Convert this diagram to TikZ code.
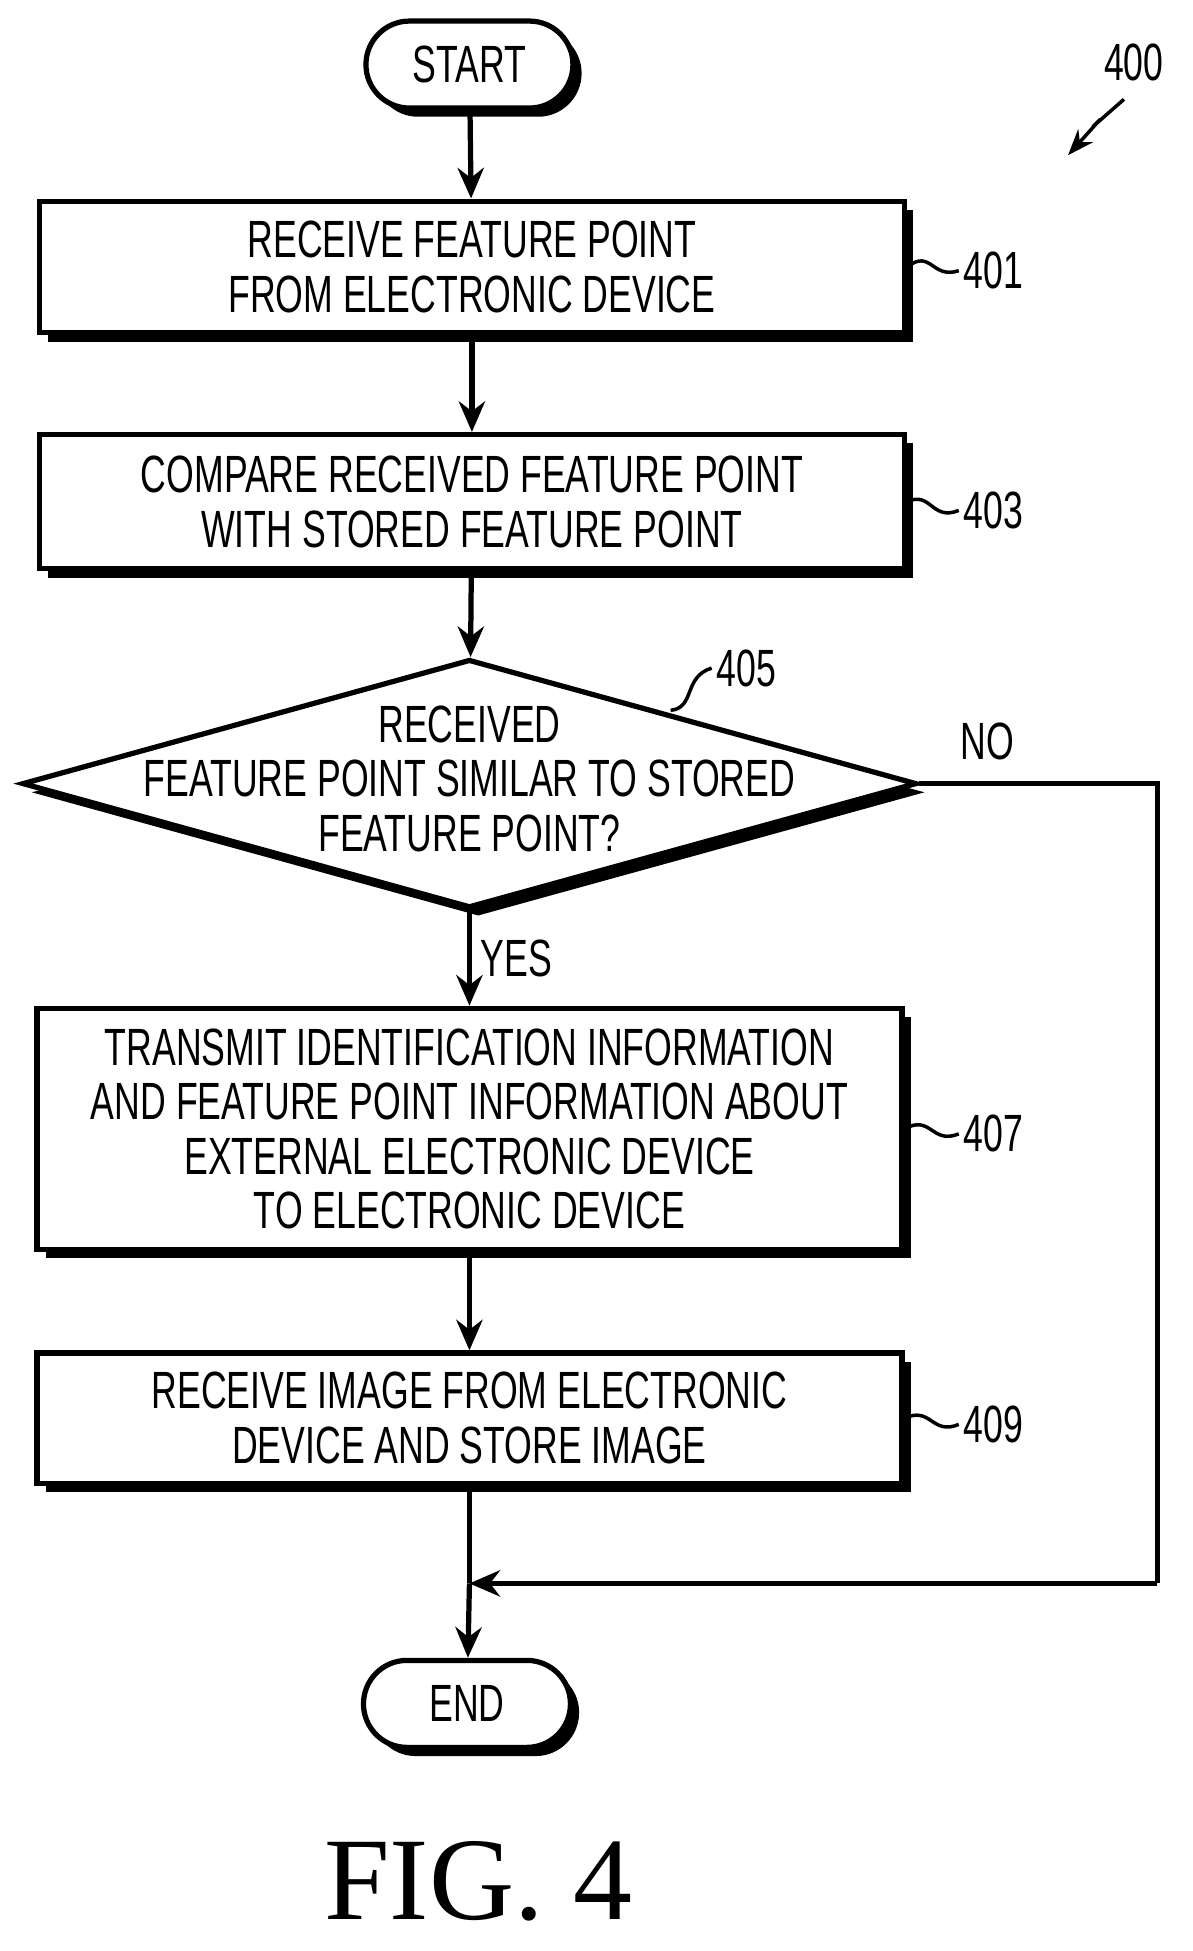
\documentclass[tikz,border=0pt]{standalone}
\usepackage{fontspec}
\setmainfont{Liberation Sans}[FakeStretch=0.68]
\newfontfamily\figfont{Liberation Serif}
\usetikzlibrary{shapes.geometric,shapes.misc,shadows,arrows.meta}
\begin{document}
\begin{tikzpicture}[x=0.01cm,y=-0.01cm,
       every node/.style={font=\fontsize{12}{12.5}\selectfont},
       box/.style={draw,very thick,fill=white,align=center,
         drop shadow={shadow xshift=0.07cm,shadow yshift=-0.07cm,fill=black,opacity=1}},
       term/.style={box,rounded rectangle,minimum width=1.9cm,minimum height=0.7cm},
       flow/.style={very thick,-{Stealth[length=7pt,width=6pt]}},
       tag/.style={anchor=west,inner sep=1pt}]
    \useasboundingbox (0,0) rectangle (960,1571);
    % terminals
    \node[term] (start) at (378,52) {START};
    \node[term] (end) at (376,1372) {END};
    % steps
    \node[box,minimum width=6.96cm,minimum height=1.06cm] (s401) at (380,215)
      {RECEIVE FEATURE POINT\\FROM ELECTRONIC DEVICE};
    \node[box,minimum width=6.96cm,minimum height=1.08cm] (s403) at (380,404)
      {COMPARE RECEIVED FEATURE POINT\\WITH STORED FEATURE POINT};
    \node[box,diamond,aspect=3.6,minimum width=7.2cm,minimum height=2cm,inner sep=0pt] (s405) at (378,631) {};
    \node[align=center] (s405t) at (378,627)
      {RECEIVED\\FEATURE POINT SIMILAR TO STORED\\FEATURE POINT?};
    \node[box,minimum width=6.96cm,minimum height=1.94cm] (s407) at (378,909)
      {TRANSMIT IDENTIFICATION INFORMATION\\AND FEATURE POINT INFORMATION ABOUT\\EXTERNAL ELECTRONIC DEVICE\\TO ELECTRONIC DEVICE};
    \node[box,minimum width=6.96cm,minimum height=1.05cm] (s409) at (378,1142)
      {RECEIVE IMAGE FROM ELECTRONIC\\DEVICE AND STORE IMAGE};
    \coordinate (merge) at (378,1275);
    \coordinate (corner1) at (932,631);
    \coordinate (corner2) at (932,1275);
    % connectors
    \draw[flow] (start) -- (s401);
    \draw[flow] (s401) -- (s403);
    \draw[flow] (s403) -- (s405);
    \draw[flow] (s405) -- node[right,inner sep=2pt] {YES} (s407);
    \draw[flow] (s407) -- (s409);
    \draw[very thick] (s409) -- (merge);
    \draw[flow] (merge) -- (end);
    \draw[very thick] (s405.east) -- (corner1) -- (corner2);
    \node (no) at (795,597) {NO};
    \draw[flow] (corner2) -- (merge);
    % reference numerals
    \node[tag] (l401) at (772,218) {401};
    \node[tag] (l403) at (772,411) {403};
    \node[tag] (l407) at (772,913) {407};
    \node[tag] (l409) at (772,1147) {409};
    \node[tag] (l405) at (573,538) {405};
    \node (l400) at (913,50) {400};
    \draw[thick] (s401.east) .. controls (750,200) and (750,225) .. (l401.west);
    \draw[thick] (s403.east) .. controls (750,395) and (750,420) .. (l403.west);
    \draw[thick] (s407.east) .. controls (750,897) and (750,922) .. (l407.west);
    \draw[thick] (s409.east) .. controls (750,1132) and (750,1156) .. (l409.west);
    \draw[thick] (540,572) .. controls (560,570) and (550,545) .. (l405.west);
    \coordinate (z1) at (905,80);
    \coordinate (z2) at (860,125);
    \draw[thick,-{Stealth[length=6pt]}] (z1) -- (880,102) -- (886,96) -- (z2);
    % caption
    \node[font=\figfont\fontsize{27}{27}\selectfont] (fig) at (385,1515) {FIG. 4};
\end{tikzpicture}
\end{document}
